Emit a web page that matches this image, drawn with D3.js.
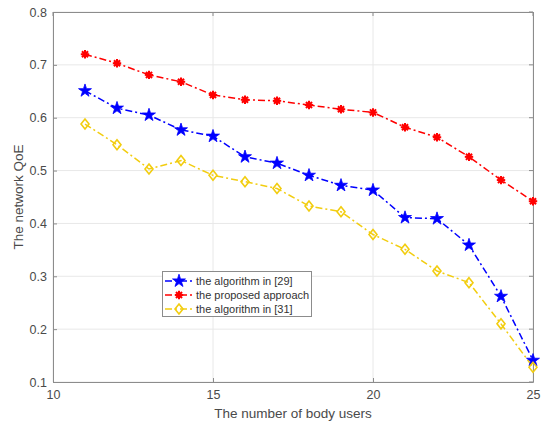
<!DOCTYPE html>
<html><head><meta charset="utf-8">
<script src="https://cdn.jsdelivr.net/npm/d3@7"></script>
<style>html,body{margin:0;padding:0;background:#fff;}svg{display:block;}</style>
</head><body><svg id="c" width="547" height="424"></svg>
<script>
const users = [11,12,13,14,15,16,17,18,19,20,21,22,23,24,25];
const alg29 = [0.651,0.618,0.605,0.577,0.565,0.526,0.514,0.491,0.472,0.463,0.411,0.409,0.359,0.262,0.141];
const proposed = [0.720,0.703,0.681,0.668,0.643,0.634,0.632,0.624,0.616,0.610,0.582,0.563,0.526,0.482,0.442];
const alg31 = [0.588,0.549,0.503,0.519,0.491,0.479,0.466,0.433,0.422,0.379,0.351,0.310,0.288,0.210,0.128];
const seriesNames = ["the algorithm in [29]","the proposed approach","the algorithm in [31]"];
const xTicks = [10,15,20,25];
const yTicks = [0.1,0.2,0.3,0.4,0.5,0.6,0.7,0.8];

const svg = d3.select("#c");
const L=53,R=533,T=12,B=382;
const x = d3.scaleLinear().domain([10,25]).range([L,R]);
const y = d3.scaleLinear().domain([0.1,0.8]).range([B,T]);
const font = "'Liberation Sans', Arial, sans-serif";
const txt = "#4a4a4a", axc = "#8c8c8c";

// grid
svg.append("g").selectAll("line").data(yTicks).join("line")
  .attr("x1",L).attr("x2",R).attr("y1",d=>y(d)).attr("y2",d=>y(d))
  .attr("stroke","#e8e8e8").attr("stroke-width",1);
svg.append("g").selectAll("line").data(xTicks).join("line")
  .attr("y1",T).attr("y2",B).attr("x1",d=>x(d)).attr("x2",d=>x(d))
  .attr("stroke","#e8e8e8").attr("stroke-width",1);

// axes
const xa = svg.append("g").attr("transform",`translate(0,${B})`)
  .call(d3.axisBottom(x).tickValues(xTicks).tickSize(-4).tickPadding(8).tickFormat(d3.format("d")));
const ya = svg.append("g").attr("transform",`translate(${L},0)`)
  .call(d3.axisLeft(y).tickValues(yTicks).tickSize(-4).tickPadding(6).tickFormat(d3.format(".1f")));
[xa,ya].forEach(a=>{
  a.select(".domain").attr("stroke",axc);
  a.selectAll(".tick line").attr("stroke",axc);
  a.selectAll("text").attr("fill",txt).style("font-family",font).style("font-size","12.5px");
});
// top & right box
svg.append("line").attr("x1",L).attr("x2",R).attr("y1",T+0.5).attr("y2",T+0.5).attr("stroke",axc);
svg.append("line").attr("x1",R+0.5).attr("x2",R+0.5).attr("y1",T).attr("y2",B).attr("stroke",axc);
svg.append("g").selectAll("line").data(xTicks).join("line")
  .attr("x1",d=>x(d)).attr("x2",d=>x(d)).attr("y1",T).attr("y2",T+4).attr("stroke",axc);
svg.append("g").selectAll("line").data(yTicks).join("line")
  .attr("x1",R).attr("x2",R-4).attr("y1",d=>y(d)).attr("y2",d=>y(d)).attr("stroke",axc);

// titles
svg.append("text").attr("x",(L+R)/2).attr("y",418).attr("text-anchor","middle")
  .attr("fill",txt).style("font-family",font).style("font-size","13.5px").text("The number of body users");
svg.append("text").attr("transform",`translate(23,${(T+B)/2}) rotate(-90)`).attr("text-anchor","middle")
  .attr("fill",txt).style("font-family",font).style("font-size","13.5px").text("The network QoE");

const series = [
  {name:seriesNames[0], vals:alg29, color:"#0000ff", marker:"star"},
  {name:seriesNames[1], vals:proposed, color:"#ff0000", marker:"asterisk"},
  {name:seriesNames[2], vals:alg31, color:"#f2cd10", marker:"diamond"}
];
const dash = "7,3,2,3";

function drawMarker(g, type, color){
  if(type==="star"){
    g.append("path").attr("d",d3.symbol().type(d3.symbolStar).size(52)())
      .attr("fill",color).attr("stroke",color).attr("stroke-width",0.8);
  } else if(type==="asterisk"){
    const r=4.2;
    [[-r,0,r,0],[0,-r,0,r],[-r*0.72,-r*0.72,r*0.72,r*0.72],[-r*0.72,r*0.72,r*0.72,-r*0.72]].forEach(c=>{
      g.append("line").attr("x1",c[0]).attr("y1",c[1]).attr("x2",c[2]).attr("y2",c[3])
       .attr("stroke",color).attr("stroke-width",2);
    });
    g.append("circle").attr("r",2.6).attr("fill",color);
  } else {
    g.append("path").attr("d","M0,-5L4,0L0,5L-4,0Z")
      .attr("fill","none").attr("stroke",color).attr("stroke-width",1.6);
  }
}

const line = d3.line().x((d,i)=>x(users[i])).y(d=>y(d));
series.forEach(s=>{
  svg.append("path").datum(s.vals).attr("d",line).attr("fill","none")
    .attr("stroke",s.color).attr("stroke-width",1.5).attr("stroke-dasharray",dash);
});
series.forEach(s=>{
  s.vals.forEach((v,i)=>{
    const g = svg.append("g").attr("transform",`translate(${x(users[i])},${y(v)})`);
    drawMarker(g,s.marker,s.color);
  });
});

// legend
const lg = svg.append("g");
lg.append("rect").attr("x",162.5).attr("y",271.5).attr("width",149).attr("height",45)
  .attr("fill","#fff").attr("stroke","#8c8c8c").attr("stroke-width",1);
series.forEach((s,i)=>{
  const yy = 281 + i*14;
  lg.append("line").attr("x1",165).attr("x2",193).attr("y1",yy).attr("y2",yy)
    .attr("stroke",s.color).attr("stroke-width",1.5).attr("stroke-dasharray",dash);
  const g = lg.append("g").attr("transform",`translate(179,${yy})`);
  drawMarker(g,s.marker,s.color);
  lg.append("text").attr("x",196).attr("y",yy+4).attr("fill","#333")
    .style("font-family",font).style("font-size","11px").text(s.name);
});
</script></body></html>
